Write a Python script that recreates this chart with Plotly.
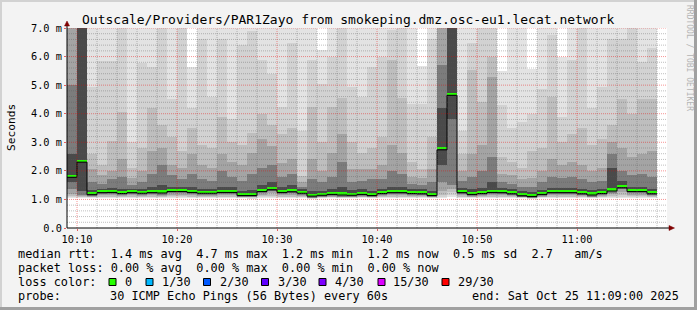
import plotly.graph_objects as go
import pandas as pd

# ---------------- data ----------------
start_time = "2025-10-25 10:09:00"
end_time = "2025-10-25 11:09:00"
major_ticks = ["10:10", "10:20", "10:30", "10:40", "10:50", "11:00"]
y_ticks = [0, 1, 2, 3, 4, 5, 6, 7]
y_ticktext = ["0.0", "1.0 m", "2.0 m", "3.0 m", "4.0 m", "5.0 m", "6.0 m", "7.0 m"]

# median rtt per minute (ms)
median = [1.82, 2.35, 1.21, 1.28, 1.29, 1.25, 1.28, 1.26, 1.28, 1.27,
          1.32, 1.32, 1.29, 1.26, 1.26, 1.29, 1.29, 1.18, 1.18, 1.32,
          1.38, 1.29, 1.31, 1.26, 1.16, 1.19, 1.22, 1.20, 1.19, 1.22,
          1.18, 1.25, 1.28, 1.28, 1.25, 1.24, 1.18, 2.78, 4.69, 1.28,
          1.22, 1.25, 1.29, 1.28, 1.24, 1.17, 1.15, 1.22, 1.28, 1.28,
          1.28, 1.24, 1.20, 1.25, 1.34, 1.45, 1.32, 1.32, 1.24]

# smoke bands (outermost -> innermost): upper and lower ping values (ms)
top1 = [7.5, 7.5, 7.5, 7.5, 7.5, 7.5, 7.5, 7.5, 7.5, 7.5,
        7.5, 7.5, 5.63, 7.5, 7.5, 7.5, 7.5, 7.5, 7.5, 7.5,
        7.5, 7.5, 7.5, 7.5, 7.5, 6.22, 7.5, 7.5, 7.5, 7.5,
        7.5, 7.5, 7.5, 7.5, 7.5, 5.66, 7.5, 7.5, 7.5, 7.5,
        7.5, 7.5, 7.5, 5.51, 7.5, 7.5, 5.55, 7.5, 7.5, 5.98,
        7.5, 7.5, 7.5, 7.5, 7.5, 7.5, 7.5, 7.5, 7.5]
top2 = [7.5, 7.5, 4.95, 5.86, 5.85, 7.5, 3.0, 5.76, 5.63, 7.5,
        4.5, 7.0, 4.2, 6.6, 4.6, 6.6, 3.8, 6.4, 6.9, 5.87,
        5.4, 4.23, 6.46, 3.4, 5.87, 5.05, 6.0, 7.5, 4.93, 4.58,
        5.64, 6.0, 6.93, 7.5, 4.34, 4.34, 6.6, 7.5, 7.5, 3.4,
        6.46, 7.5, 7.5, 4.3, 3.5, 3.7, 4.0, 4.87, 6.75, 3.9,
        5.87, 7.0, 4.2, 4.93, 6.63, 6.63, 7.0, 5.81, 6.3]
top3 = [7.5, 7.5, 2.6, 2.2, 3.05, 4.05, 2.1, 2.8, 4.2, 3.6,
        3.2, 2.7, 3.5, 2.9, 2.8, 3.9, 3.0, 2.9, 3.34, 4.0,
        3.6, 3.3, 3.5, 1.82, 4.23, 3.0, 4.23, 4.55, 3.0, 2.64,
        2.8, 3.2, 5.87, 4.55, 2.3, 2.05, 3.2, 7.5, 7.5, 2.6,
        5.52, 4.4, 6.0, 2.5, 2.3, 2.1, 2.7, 2.8, 4.6, 3.0,
        3.3, 3.5, 2.9, 3.1, 3.6, 4.5, 4.0, 4.5, 4.5]
top4 = [7.5, 7.5, 2.05, 1.85, 2.0, 2.4, 1.75, 2.0, 2.7, 2.8,
        2.2, 2.1, 2.6, 2.2, 2.1, 2.6, 2.3, 2.2, 2.64, 3.1,
        2.88, 2.29, 2.4, 1.6, 2.4, 2.0, 2.64, 3.3, 2.05, 2.05,
        2.05, 2.2, 2.9, 2.64, 1.8, 1.75, 2.05, 7.5, 7.5, 2.0,
        2.6, 2.9, 5.3, 1.9, 1.85, 1.7, 1.75, 2.0, 2.4, 2.2,
        2.3, 2.2, 2.0, 2.1, 3.0, 2.8, 2.5, 2.6, 2.7]
top5 = [5.0, 7.5, 1.6, 1.55, 1.7, 1.8, 1.5, 1.6, 1.9, 2.2,
        1.85, 1.7, 1.9, 1.7, 1.65, 2.0, 1.8, 1.65, 1.9, 2.1,
        2.2, 1.8, 1.9, 1.45, 1.7, 1.6, 1.8, 2.3, 1.6, 1.65,
        1.7, 1.7, 2.0, 1.9, 1.55, 1.5, 1.6, 5.7, 7.5, 1.65,
        1.8, 2.0, 2.5, 1.6, 1.55, 1.45, 1.45, 1.6, 1.8, 1.75,
        1.8, 1.7, 1.6, 1.65, 2.6, 2.0, 1.85, 1.9, 1.8]
top6 = [2.6, 7.5, 1.32, 1.38, 1.4, 1.38, 1.36, 1.37, 1.42, 1.5,
        1.45, 1.45, 1.42, 1.38, 1.38, 1.45, 1.42, 1.3, 1.32, 1.5,
        1.6, 1.45, 1.5, 1.36, 1.3, 1.3, 1.35, 1.45, 1.32, 1.35,
        1.3, 1.38, 1.45, 1.42, 1.38, 1.35, 1.3, 4.2, 7.5, 1.4,
        1.35, 1.4, 1.6, 1.4, 1.35, 1.28, 1.27, 1.33, 1.4, 1.4,
        1.4, 1.36, 1.32, 1.37, 2.1, 1.65, 1.45, 1.45, 1.38]

bot1 = [1.05, 1.05, 1.04, 1.04, 1.05, 1.04, 1.04, 1.05, 1.04, 1.04,
        1.05, 1.04, 1.04, 1.05, 1.04, 1.04, 1.05, 1.04, 1.03, 1.04,
        1.05, 1.04, 1.04, 1.05, 1.03, 1.04, 1.04, 1.04, 1.04, 1.05,
        1.04, 1.04, 1.05, 1.04, 1.04, 1.05, 1.04, 1.06, 1.08, 1.04,
        1.04, 1.05, 1.04, 1.04, 1.05, 1.04, 1.03, 1.04, 1.04, 1.05,
        1.04, 1.04, 1.04, 1.05, 1.04, 1.05, 1.04, 1.04, 1.05]
bot2 = [1.08, 1.08, 1.07, 1.07, 1.08, 1.07, 1.07, 1.07, 1.07, 1.07,
        1.08, 1.08, 1.07, 1.07, 1.07, 1.07, 1.08, 1.06, 1.06, 1.08,
        1.08, 1.07, 1.07, 1.07, 1.05, 1.06, 1.07, 1.06, 1.06, 1.07,
        1.06, 1.07, 1.07, 1.07, 1.07, 1.07, 1.06, 1.10, 1.15, 1.07,
        1.07, 1.07, 1.08, 1.07, 1.07, 1.06, 1.05, 1.07, 1.07, 1.07,
        1.07, 1.07, 1.06, 1.07, 1.08, 1.09, 1.08, 1.08, 1.07]
bot3 = [1.12, 1.10, 1.09, 1.10, 1.10, 1.09, 1.10, 1.09, 1.10, 1.09,
        1.11, 1.11, 1.10, 1.09, 1.09, 1.10, 1.10, 1.07, 1.07, 1.11,
        1.13, 1.10, 1.10, 1.09, 1.06, 1.07, 1.08, 1.08, 1.07, 1.08,
        1.07, 1.09, 1.10, 1.10, 1.09, 1.09, 1.07, 1.15, 1.25, 1.10,
        1.08, 1.09, 1.10, 1.10, 1.09, 1.07, 1.06, 1.08, 1.10, 1.10,
        1.10, 1.09, 1.08, 1.09, 1.12, 1.15, 1.11, 1.11, 1.09]
bot4 = [1.20, 1.12, 1.10, 1.14, 1.15, 1.12, 1.14, 1.13, 1.14, 1.13,
        1.17, 1.17, 1.15, 1.13, 1.13, 1.15, 1.15, 1.08, 1.08, 1.17,
        1.21, 1.15, 1.16, 1.13, 1.06, 1.08, 1.10, 1.09, 1.08, 1.10,
        1.08, 1.12, 1.14, 1.14, 1.12, 1.12, 1.08, 1.30, 1.35, 1.14,
        1.10, 1.12, 1.15, 1.14, 1.12, 1.07, 1.06, 1.10, 1.14, 1.14,
        1.14, 1.12, 1.09, 1.12, 1.18, 1.26, 1.17, 1.17, 1.12]
bot5 = [1.35, 1.15, 1.11, 1.18, 1.19, 1.15, 1.18, 1.16, 1.18, 1.17,
        1.22, 1.22, 1.19, 1.16, 1.16, 1.19, 1.19, 1.08, 1.08, 1.22,
        1.28, 1.19, 1.21, 1.16, 1.06, 1.09, 1.12, 1.10, 1.09, 1.12,
        1.08, 1.15, 1.18, 1.18, 1.15, 1.14, 1.08, 1.60, 1.50, 1.18,
        1.12, 1.15, 1.19, 1.18, 1.14, 1.07, 1.05, 1.12, 1.18, 1.18,
        1.18, 1.14, 1.10, 1.15, 1.24, 1.35, 1.22, 1.22, 1.14]
bot6 = [1.60, 1.30, 1.16, 1.23, 1.24, 1.20, 1.23, 1.21, 1.23, 1.22,
        1.27, 1.27, 1.24, 1.21, 1.21, 1.24, 1.24, 1.13, 1.13, 1.27,
        1.33, 1.24, 1.26, 1.21, 1.11, 1.14, 1.17, 1.15, 1.14, 1.17,
        1.13, 1.20, 1.23, 1.23, 1.20, 1.19, 1.13, 2.20, 3.80, 1.23,
        1.17, 1.20, 1.24, 1.23, 1.19, 1.12, 1.10, 1.17, 1.23, 1.23,
        1.23, 1.19, 1.15, 1.20, 1.29, 1.40, 1.27, 1.27, 1.19]

smoke_colors = ["#e3e3e3", "#d2d2d2", "#bebebe", "#a4a4a4", "#7c7c7c", "#4a4a4a"]

legend_line1 = "median rtt:  1.4 ms avg  4.7 ms max  1.2 ms min  1.2 ms now  0.5 ms sd  2.7   am/s"
legend_line2 = "packet loss: 0.00 % avg  0.00 % max  0.00 % min  0.00 % now"
loss_labels = ["0", "1/30", "2/30", "3/30", "4/30", "15/30", "29/30"]
loss_colors = ["#26ff00", "#00b8ff", "#0059ff", "#5e00ff", "#7e00ff", "#dd00ff", "#ff0000"]
probe_text = "30 ICMP Echo Pings (56 Bytes) every 60s"
end_text = "end: Sat Oct 25 11:09:00 2025"
title_text = "Outscale/Providers/PAR1Zayo from smokeping.dmz.osc-eu1.lecat.network"

# ---------------- geometry helpers ----------------
W, H = 697, 310
PL, PT, PW, PH = 67, 28, 600, 200
MONO = "DejaVu Sans Mono"


def px(x):
    return (x - PL) / PW


def py(y):
    return (PT + PH - y) / PH


def nb(s):
    return s.replace(" ", "\u00a0")


t0 = pd.Timestamp(start_time)
n = len(median)
lefts = [t0 + pd.Timedelta(minutes=i) for i in range(n + 1)]
centers = [t + pd.Timedelta(seconds=30) for t in lefts[:n]]
fmt = "%Y-%m-%d %H:%M:%S"
xc = [t.strftime(fmt) for t in centers]
xl = [t.strftime(fmt) for t in lefts]
day = t0.strftime("%Y-%m-%d")

fig = go.Figure()

tops = [top1, top2, top3, top4, top5, top6]
bots = [bot1, bot2, bot3, bot4, bot5, bot6]
for tp, bt, col in zip(tops, bots, smoke_colors):
    fig.add_trace(go.Bar(
        x=xc, y=[a - b for a, b in zip(tp, bt)], base=bt, width=60000,
        marker=dict(color=col, line=dict(width=0)),
        hoverinfo="skip", showlegend=False))

# green median band (0 loss)
fig.add_trace(go.Bar(
    x=xc, y=[0.075] * n, base=[m - 0.03 for m in median], width=60000,
    marker=dict(color=loss_colors[0], line=dict(width=0)),
    hoverinfo="skip", showlegend=False))

# black median step line
fig.add_trace(go.Scatter(
    x=xl, y=[m - 0.045 for m in median] + [median[-1] - 0.045],
    mode="lines", line=dict(color="black", width=1, shape="hv"),
    hoverinfo="skip", showlegend=False))

shapes = []
minor_col = "rgba(90,90,90,0.38)"
major_col = "rgba(235,0,0,0.42)"
# horizontal grid
for k in range(1, 36):
    v = k * 0.2
    is_major = k % 5 == 0
    shapes.append(dict(type="line", xref="paper", yref="y", x0=0, x1=1, y0=v, y1=v,
                       line=dict(color=major_col if is_major else minor_col, width=1, dash="1px,1px"),
                       layer="above"))
# vertical grid every 2 minutes
for mnt in range(1, 60, 2):
    t = t0 + pd.Timedelta(minutes=mnt)
    is_major = t.minute % 10 == 0
    shapes.append(dict(type="line", xref="x", yref="paper", x0=t.strftime(fmt), x1=t.strftime(fmt), y0=0, y1=1,
                       line=dict(color=major_col if is_major else minor_col, width=1, dash="1px,1px"),
                       layer="above"))

# axes lines + arrows
shapes.append(dict(type="line", xref="paper", yref="paper", x0=0, x1=px(670), y0=0, y1=0,
                   line=dict(color="black", width=1), layer="above"))
shapes.append(dict(type="line", xref="paper", yref="paper", x0=0, x1=0, y0=0, y1=py(25),
                   line=dict(color="black", width=1), layer="above"))
shapes.append(dict(type="path", xref="paper", yref="paper",
                   path=f"M {px(669)},{py(225.5)} L {px(674.5)},{py(228)} L {px(669)},{py(230.5)} Z",
                   fillcolor="#7f0000", line=dict(color="#7f0000", width=0.5), layer="above"))
shapes.append(dict(type="path", xref="paper", yref="paper",
                   path=f"M {px(64.5)},{py(26)} L {px(67)},{py(21)} L {px(69.5)},{py(26)} Z",
                   fillcolor="#7f0000", line=dict(color="#7f0000", width=0.5), layer="above"))

# frame
shapes.append(dict(type="rect", xref="paper", yref="paper", x0=px(0), x1=px(697), y0=py(0), y1=py(2),
                   fillcolor="#d2d2d2", line=dict(width=0), layer="below"))
shapes.append(dict(type="rect", xref="paper", yref="paper", x0=px(0), x1=px(2), y0=py(0), y1=py(310),
                   fillcolor="#d2d2d2", line=dict(width=0), layer="below"))
shapes.append(dict(type="rect", xref="paper", yref="paper", x0=px(0), x1=px(697), y0=py(307), y1=py(310),
                   fillcolor="#a0a0a0", line=dict(width=0), layer="below"))
shapes.append(dict(type="rect", xref="paper", yref="paper", x0=px(694), x1=px(697), y0=py(0), y1=py(310),
                   fillcolor="#a0a0a0", line=dict(width=0), layer="below"))

# loss colour boxes
box_x = [109, 146, 203.5, 261.5, 319, 378, 442]
label_x = [123, 160, 217.8, 275.6, 333.3, 391, 455.6]
for bx, c in zip(box_x, loss_colors):
    shapes.append(dict(type="rect", xref="paper", yref="paper", x0=px(bx), x1=px(bx + 7),
                       y0=py(285.5), y1=py(278.5), fillcolor=c, line=dict(color="black", width=1)))

annotations = []


def txt(s, x, y, size=11.85, xanchor="left", color="black", angle=0):
    annotations.append(dict(text=nb(s), x=px(x), y=py(y), xref="paper", yref="paper",
                            xanchor=xanchor, yanchor="middle", showarrow=False, textangle=angle,
                            font=dict(family=MONO, size=size, color=color)))


txt(title_text, 347.5, 19, size=13, xanchor="center")
txt("Seconds", 11, 128, size=11.2, xanchor="center", angle=-90)
txt("RRDTOOL / TOBI OETIKER", 690, 58, size=8, xanchor="center", color="#b4b4b4", angle=90)
txt(legend_line1, 16, 254)
txt(legend_line2, 16, 268)
txt("loss color:", 16, 282)
for lx, lab in zip(label_x, loss_labels):
    txt(lab, lx, 282)
txt("probe:", 16, 296.3)
txt(probe_text, 107.5, 296.3)
txt(end_text, 680.5, 296.3, xanchor="right")

fig.update_layout(
    width=W, height=H, autosize=False,
    margin=dict(l=PL, r=W - PL - PW, t=PT, b=H - PT - PH, pad=0),
    paper_bgcolor="#f3f3f3", plot_bgcolor="white",
    barmode="overlay", bargap=0,
    shapes=shapes, annotations=annotations, showlegend=False,
    xaxis=dict(type="date", range=[start_time, end_time],
               tickvals=[f"{day} {t}:00" for t in major_ticks], ticktext=major_ticks,
               showgrid=False, zeroline=False, showline=False,
               ticks="outside", ticklen=2, tickcolor="rgba(220,0,0,0.6)",
               tickfont=dict(family=MONO, size=10.3, color="black"),
               fixedrange=True),
    yaxis=dict(range=[0, 7], tickvals=y_ticks, ticktext=y_ticktext,
               showgrid=False, zeroline=False, showline=False,
               ticks="outside", ticklen=2, tickcolor="rgba(220,0,0,0.6)",
               tickfont=dict(family=MONO, size=10.3, color="black"),
               fixedrange=True),
)

fig.write_html("out.html")
